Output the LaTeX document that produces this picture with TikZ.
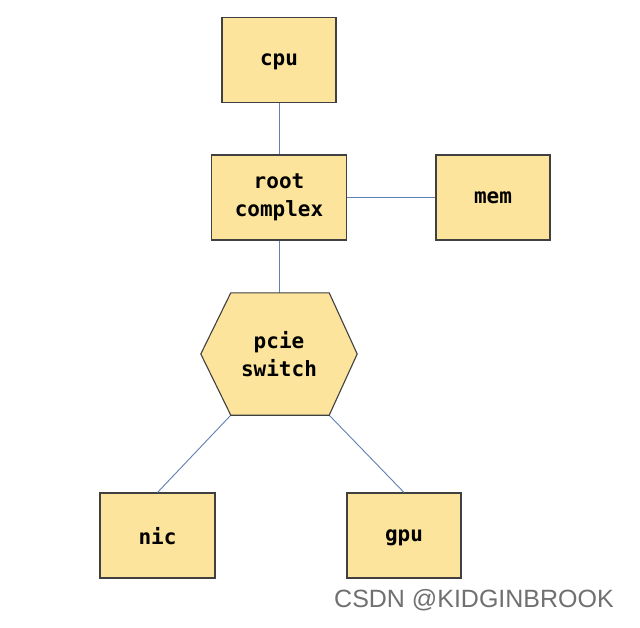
\documentclass[tikz,border=0pt]{standalone}
\usepackage{fontspec}
\setmonofont{DejaVu Sans Mono}
\setsansfont{Liberation Sans}
\usetikzlibrary{calc}
\definecolor{boxfill}{HTML}{FCE49C}
\definecolor{boxedge}{HTML}{404040}
\definecolor{wire}{HTML}{5E80B4}
\definecolor{wm}{HTML}{707070}
\begin{document}
\begin{tikzpicture}[x=1pt,y=-1pt,
  txt/.style={font=\fontsize{21}{28}\selectfont\ttfamily\bfseries,align=center},
  box/.style={draw=boxedge,fill=boxfill,line width=1.1pt,minimum width=114pt,minimum height=85pt,
    txt,inner sep=0pt},
  onebox/.style={box,text depth=0pt},
  wireline/.style={draw=wire,line width=0.9pt}]
\fill[white] (0,0) rectangle (640,627);
\useasboundingbox (0,0) rectangle (640,627);
% hexagon frame
\node[minimum width=156pt,minimum height=122pt,inner sep=0pt] (hx) at (279,354) {};
\coordinate (htl) at ($(hx.north west)+(30,0)$);
\coordinate (htr) at ($(hx.north east)+(-28,0)$);
\coordinate (hbl) at ($(hx.south west)+(30,0)$);
\coordinate (hbr) at ($(hx.south east)+(-28,0)$);
\coordinate (htop) at (hx.north);
\node[onebox] (cpu) at (279,60) {cpu};
\node[box,minimum width=135pt] (rc) at (279,197.5) {root\\complex};
\node[onebox] (mem) at (493,197.5) {mem};
\node[onebox,minimum width=115pt] (nic) at (157.5,535.5) {nic};
\node[onebox] (gpu) at (404,535.5) {gpu};
\draw[wireline] (cpu.south) -- (rc.north);
\draw[wireline] (rc.east) -- (mem.west);
\draw[wireline] (rc.south) -- (htop);
\draw[wireline] (hbl) -- (nic.north);
\draw[wireline] (hbr) -- (gpu.north);
\draw[draw=boxedge,fill=boxfill,line width=1.1pt,line join=miter]
  (htl) -- (htr) -- (hx.east) -- (hbr) -- (hbl) -- (hx.west) -- cycle;
\node[txt] (hxt) at (hx.center) {pcie\\switch};
\node[font=\fontsize{25}{28}\selectfont\sffamily,text=wm,anchor=center] (wmk) at (474,600) {CSDN @KIDGINBROOK};
\end{tikzpicture}
\end{document}
